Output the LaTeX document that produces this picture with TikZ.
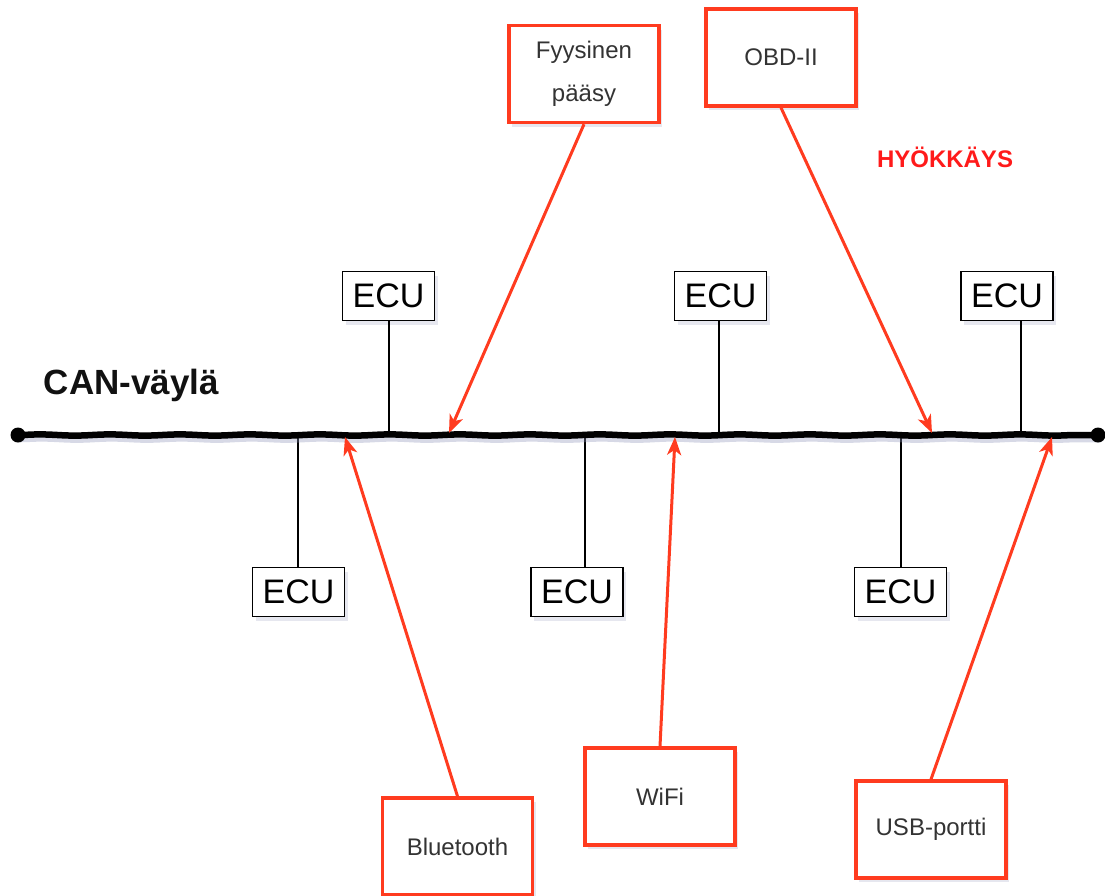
\documentclass[tikz,border=0pt]{standalone}
\usepackage{fontspec}
\setmainfont{Liberation Sans}
\usetikzlibrary{arrows.meta,shadows,decorations.pathmorphing}
\definecolor{attackred}{HTML}{FF3B1F}
\definecolor{titlered}{HTML}{FF1A1A}
\definecolor{shade}{HTML}{8C93B8}
\definecolor{labelgray}{HTML}{333333}
\definecolor{inkblack}{HTML}{111111}

\begin{document}
\begin{tikzpicture}[x=1pt,y=-1pt,
  boxshadow/.style={drop shadow={shadow xshift=3pt, shadow yshift=-4pt, opacity=0.22, fill=shade}},
  ecubox/.style={draw=black, line width=1.6pt, fill=white, minimum width=92pt,
    minimum height=49pt, inner sep=0pt, font=\fontsize{34}{36}\selectfont, boxshadow},
  vecbox/.style={draw=attackred, line width=3.4pt, fill=white, minimum width=150pt,
    minimum height=97pt, inner sep=0pt, align=center, text=labelgray,
    font=\fontsize{24}{43}\selectfont, boxshadow},
  stem/.style={line width=2.6pt, draw=black},
  attack/.style={draw=attackred, line width=3pt,
    -{Stealth[length=18pt,width=14pt,inset=5pt]}},
  bus/.style={line width=6.5pt, line cap=round, decorate,
    decoration={snake, amplitude=0.6pt, segment length=70pt}}
]
\useasboundingbox (0,0) rectangle (1105,895);

% bus end points and tap points
\coordinate (busL) at (18,435);
\coordinate (busR) at (1098,435);
\coordinate (tapT1) at (389,435);
\coordinate (tapT2) at (719,435);
\coordinate (tapT3) at (1021,435);
\coordinate (tapB1) at (298,435);
\coordinate (tapB2) at (585,435);
\coordinate (tapB3) at (901,435);
\coordinate (hitFys) at (449,433);
\coordinate (hitObd) at (932,433);
\coordinate (hitBt) at (345,437);
\coordinate (hitWifi) at (675,437);
\coordinate (hitUsb) at (1052,437);

% ECU boxes
\node[ecubox] (ecuT1) at (388.5,296) {ECU};
\node[ecubox] (ecuT2) at (720.5,296) {ECU};
\node[ecubox] (ecuT3) at (1007,296) {ECU};
\node[ecubox] (ecuB1) at (298.5,592) {ECU};
\node[ecubox] (ecuB2) at (577,592) {ECU};
\node[ecubox] (ecuB3) at (900.5,592) {ECU};

% stems from the ECUs to the bus
\draw[stem] (ecuT1.south -| tapT1) -- (tapT1);
\draw[stem] (ecuT2.south -| tapT2) -- (tapT2);
\draw[stem] (ecuT3.south -| tapT3) -- (tapT3);
\draw[stem] (ecuB1.north -| tapB1) -- (tapB1);
\draw[stem] (ecuB2.north -| tapB2) -- (tapB2);
\draw[stem] (ecuB3.north -| tapB3) -- (tapB3);

% the CAN bus
\draw[bus, draw=shade, opacity=0.35] ([shift={(2,4)}]busL) -- ([shift={(2,4)}]busR);
\draw[bus, draw=black] (busL) -- (busR);
\fill[black] (busL) circle (7.5pt);
\fill[black] (busR) circle (7.5pt);

% labels
\node[font=\bfseries\fontsize{35}{38}\selectfont, text=inkblack] (canlabel) at (131.5,385) {CAN-väylä};
\node[font=\bfseries\fontsize{24}{26}\selectfont, text=titlered] (attacktitle) at (945,157) {HYÖKKÄYS};

% attack vectors
\node[vecbox] (fys) at (584,74) {Fyysinen\\pääsy};
\node[vecbox] (obd) at (781,57.5) {OBD-II};
\node[vecbox] (bt) at (457.5,846.5) {Bluetooth};
\node[vecbox] (wifi) at (660,796.5) {WiFi};
\node[vecbox] (usb) at (931,829.5) {USB-portti};

\draw[attack] (fys.south) -- (hitFys);
\draw[attack] (obd.south) -- (hitObd);
\draw[attack] (bt.north) -- (hitBt);
\draw[attack] (wifi.north) -- (hitWifi);
\draw[attack] (usb.north) -- (hitUsb);
\end{tikzpicture}
\end{document}
